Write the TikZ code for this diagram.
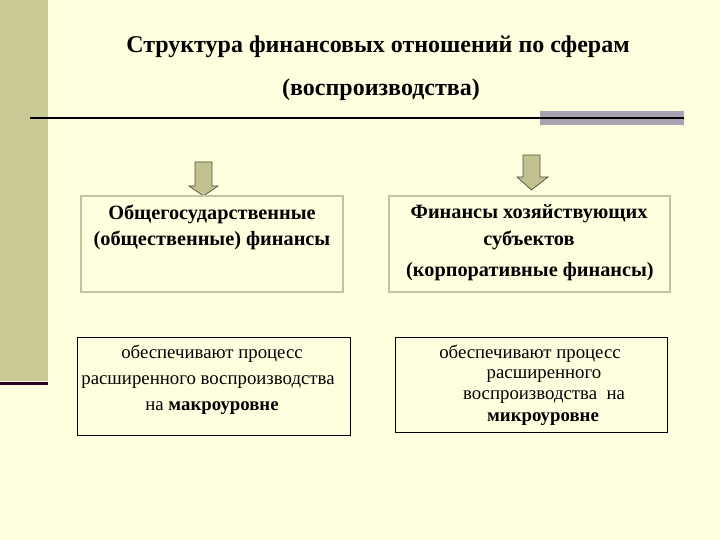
\documentclass[tikz,border=0pt]{standalone}
\usepackage{fontspec}
\setmainfont{Liberation Serif}
\definecolor{bgc}{HTML}{FFFFE0}
\definecolor{barc}{HTML}{CACA96}
\definecolor{purp}{HTML}{300022}
\definecolor{grayrect}{HTML}{A8A2B2}
\definecolor{boxedge}{HTML}{C4C4A4}
\definecolor{arrowfill}{HTML}{C2C290}
\definecolor{arrowedge}{HTML}{505040}
\tikzset{
  topbox/.style={draw=boxedge, line width=2.2pt, fill=bgc},
  lowbox/.style={draw=black, line width=0.9pt, fill=bgc},
  blockarrow/.style={fill=arrowfill, draw=arrowedge, line width=0.7pt, line join=miter},
  titletext/.style={font=\fontsize{24}{28}\selectfont\bfseries, inner sep=0pt},
  boldtext/.style={font=\fontsize{20.3}{24}\selectfont\bfseries, inner sep=0pt},
  plaintext/.style={font=\fontsize{18.8}{22}\selectfont, inner sep=0pt},
}
\begin{document}
\begin{tikzpicture}[x=1pt,y=-1pt]
\fill[bgc] (0,0) rectangle (720,540);
\useasboundingbox (0,0) rectangle (720,540);
% left bar
\fill[barc] (0,0) rectangle (48,381);
\fill[purp] (0,381.5) rectangle (48,385);
% rule under title
\fill[grayrect] (540,111) rectangle (684,125);
\draw[black, line width=2.4pt] (30,118) -- (684,118);
% title
\node[titletext] (t1) at (378,47) {Структура финансовых отношений по сферам};
\node[titletext] (t2) at (381,90) {(воспроизводства)};
% block arrows
\draw[blockarrow] (195,162) -- (212,162) -- (212,186) -- (218,186) -- (203.5,196) -- (189,186) -- (195,186) -- cycle;
\draw[blockarrow] (523,155) -- (540,155) -- (540,177) -- (548,177) -- (531.5,190) -- (517,177) -- (523,177) -- cycle;
% top boxes
\draw[topbox] (81,196) rectangle (343,292);
\draw[topbox] (389,196) rectangle (670,292);
\node[boldtext] (a1) at (212,214) {Общегосударственные};
\node[boldtext] (a2) at (212,240) {(общественные) финансы};
\node[boldtext] (b1) at (529,214) {Финансы хозяйствующих};
\node[boldtext] (b2) at (529,240) {субъектов};
\node[boldtext] (b3) at (530,272) {(корпоративные финансы)};
% bottom boxes
\draw[lowbox] (77,337) rectangle (350,435);
\draw[lowbox] (395,337) rectangle (667,432);
\node[plaintext] (c1) at (212,354) {обеспечивают процесс};
\node[plaintext] (c2) at (208,382) {расширенного воспроизводства};
\node[plaintext] (c3) at (212,408) {на \textbf{макроуровне}};
\node[plaintext] (d1) at (530,354) {обеспечивают процесс};
\node[plaintext] (d2) at (544,376) {расширенного};
\node[plaintext] (d3) at (544,397) {воспроизводства\ \ на};
\node[plaintext] (d4) at (543,419) {\textbf{микроуровне}};
\end{tikzpicture}
\end{document}
